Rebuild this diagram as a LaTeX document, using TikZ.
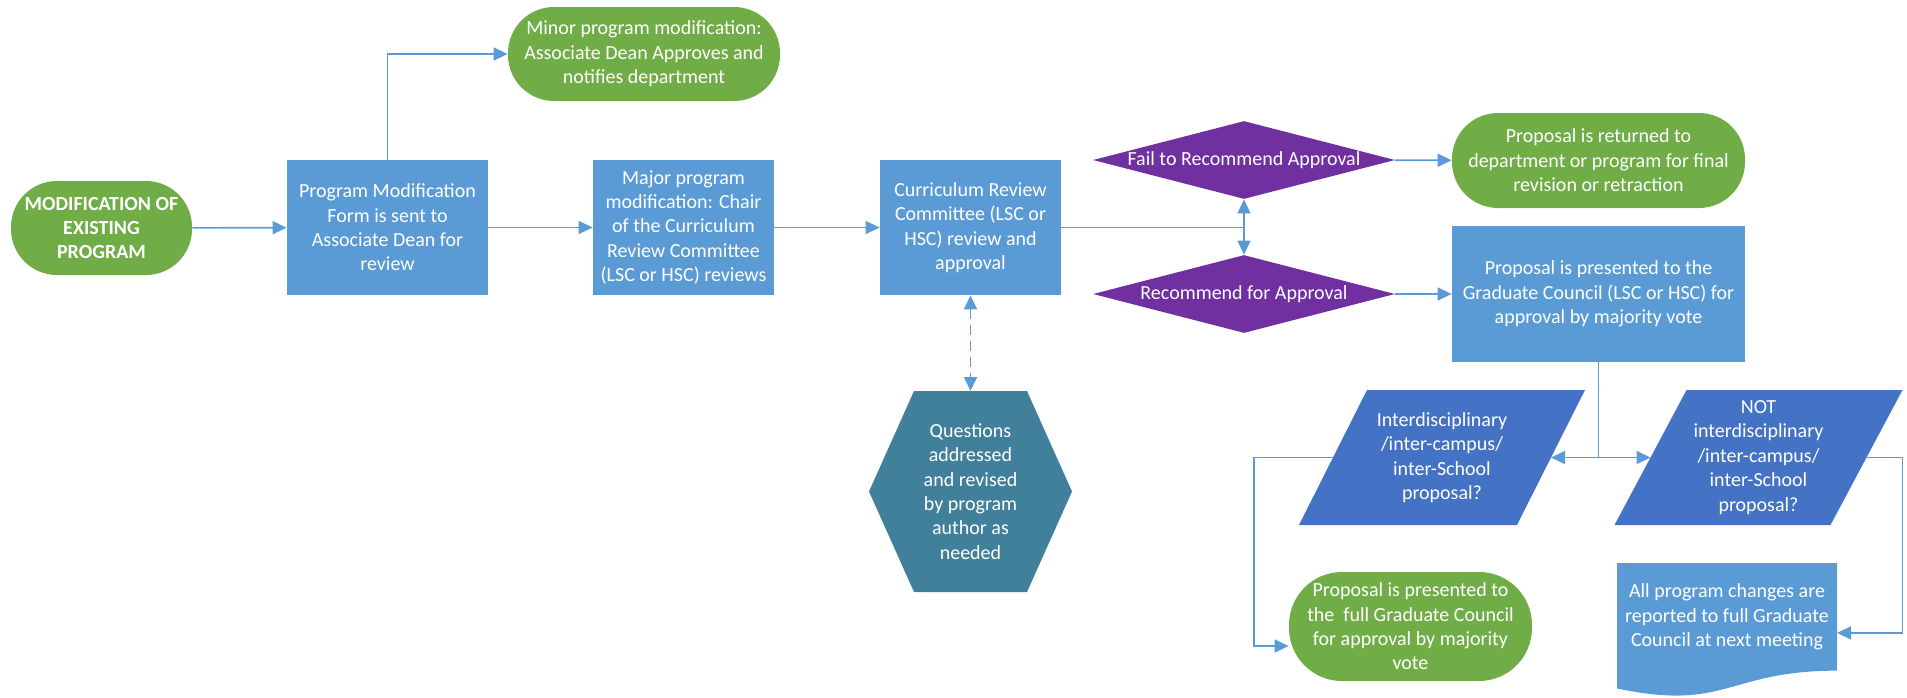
\documentclass[tikz,border=0pt]{standalone}
\usepackage{fontspec}
\setmainfont{Carlito}
\usepackage{tikz}
\usetikzlibrary{arrows.meta,calc,shapes.geometric,backgrounds}
\usepackage{xcolor}
\definecolor{color70ad47}{HTML}{70ad47}
\definecolor{color5b9bd5}{HTML}{5b9bd5}
\definecolor{color7030a0}{HTML}{7030a0}
\definecolor{color41809b}{HTML}{41809b}
\definecolor{color4472c4}{HTML}{4472c4}

\begin{document}
\begin{tikzpicture}
    [x=0.5pt, y=-0.5pt,
     >={Triangle[length=7pt,width=6.5pt]},  % Uniform arrow style
     txt/.style={text=white, font=\fontsize{10}{12.2}\selectfont, align=center},
     terminal/.style={txt, shape=rectangle, fill=color70ad47, inner sep=1pt},
     stepbox/.style={txt, shape=rectangle, fill=color5b9bd5, inner sep=1pt},
     decision/.style={shape=diamond, fill=color7030a0, inner sep=0pt, minimum width=151pt, minimum height=39pt},
     query/.style={txt, shape=rectangle, inner sep=0pt, outer sep=0pt, minimum height=67.5pt},
     link/.style={draw=color5b9bd5, line width=0.8pt},
    ]

\useasboundingbox (0,0) rectangle (1907,697);

\node[terminal, minimum width=90.5pt, minimum height=47pt, rounded corners=23pt, font=\fontsize{10}{12.2}\selectfont\bfseries] (node_start) at (101.5,228) {MODIFICATION OF\\EXISTING\\PROGRAM};
\node[stepbox, minimum width=100.5pt, minimum height=67.5pt] (node_form) at (387.5,227.5) {Program Modification\\Form is sent to\\Associate Dean for\\review};
\node[terminal, minimum width=136pt, minimum height=47pt, rounded corners=23pt] (node_minor) at (644,54) {Minor program modification:\\Associate Dean Approves and\\notifies department};
\node[stepbox, minimum width=90.5pt, minimum height=67.5pt] (node_major) at (683.5,227.5) {Major program\\modification: Chair\\of the Curriculum\\Review Committee\\(LSC or HSC) reviews};
\node[stepbox, minimum width=90.5pt, minimum height=67.5pt] (node_review) at (970.5,227.5) {Curriculum Review\\Committee (LSC or\\HSC) review and\\approval};
\node[decision, label={[txt]center:Fail to Recommend Approval}] (node_fail) at (1244,160) {};
\node[decision, label={[txt]center:Recommend for Approval}] (node_recommend) at (1244,294) {};
\node[terminal, minimum width=146.5pt, minimum height=47.5pt, rounded corners=23pt] (node_returned) at (1598.5,160.5) {Proposal is returned to\\department or program for final\\revision or retraction};
\node[stepbox, minimum width=146.5pt, minimum height=68pt] (node_council) at (1598.5,294) {Proposal is presented to the\\Graduate Council (LSC or HSC) for\\approval by majority vote};
\node[txt, minimum width=56.5pt, minimum height=100.5pt, inner sep=0pt, outer sep=0pt] (node_questions) at (970.5,491.5) {Questions\\addressed\\and revised\\by program\\author as\\needed};
\node[query, minimum width=109pt] (node_inter) at (1442,457.5) {Interdisciplinary\\/inter-campus/\\inter-School\\proposal?};
\node[query, minimum width=108pt] (node_notinter) at (1758.5,457.5) {NOT\\interdisciplinary\\/inter-campus/\\inter-School\\proposal?};
\node[terminal, minimum width=121.5pt, minimum height=54.5pt, rounded corners=26.5pt] (node_fullgc) at (1410.5,626.5) {Proposal is presented to\\the~ full Graduate Council\\for approval by majority\\vote};
\node[txt, minimum width=110pt, minimum height=53.75pt, inner sep=1pt, outer sep=0pt] (node_allchg) at (1727,616.9) {All program changes are\\reported to full Graduate\\Council at next meeting};

\begin{scope}[on background layer]
\fill[color41809b] (node_questions.north west) -- ([xshift=-22.5pt]node_questions.west) -- (node_questions.south west) -- (node_questions.south east) -- ([xshift=22.5pt]node_questions.east) -- (node_questions.north east) -- cycle;
\fill[color4472c4] ([xshift=-17pt]node_inter.south west) -- ([xshift=17pt]node_inter.north west) -- ([xshift=17pt]node_inter.north east) -- ([xshift=-17pt]node_inter.south east) -- cycle;
\fill[color4472c4] ([xshift=-18pt]node_notinter.south west) -- ([xshift=18pt]node_notinter.north west) -- ([xshift=18pt]node_notinter.north east) -- ([xshift=-18pt]node_notinter.south east) -- cycle;
\fill[color5b9bd5] (node_allchg.north west) -- (node_allchg.north east) -- (node_allchg.south east) .. controls ([xshift=-55pt]node_allchg.south east) and ([xshift=55pt,yshift=-20.5pt]node_allchg.south west) .. ([yshift=-8.9pt]node_allchg.south west) -- cycle;
\end{scope}

\coordinate (split) at (1244,227.5);
\coordinate (fork) at (1598.5,457.5);
\draw[link,->] (node_start) -- (node_form);
\draw[link,->] (node_form.north) |- (node_minor.west);
\draw[link,->] (node_form) -- (node_major);
\draw[link,->] (node_major) -- (node_review);
\draw[link] (node_review.east) -- (split);
\draw[link,->] (split) -- (node_fail.south);
\draw[link,->] (split) -- (node_recommend.north);
\draw[link,->] (node_fail) -- (node_returned);
\draw[link,->] (node_recommend) -- (node_council);
\draw[link,<->,dash pattern=on 5pt off 3pt] (node_review) -- (node_questions);
\draw[link] (node_council.south) -- (fork);
\draw[link,->] (fork) -- (node_inter.east);
\draw[link,->] (fork) -- (node_notinter.west);
\draw[link,->] (node_inter.west) -- ++(-79,0) |- ([yshift=-9.75pt]node_fullgc.west);
\draw[link,->] (node_notinter.east) -- ++(36,0) |- ([yshift=-8pt]node_allchg.east);

\end{tikzpicture}
\end{document}
